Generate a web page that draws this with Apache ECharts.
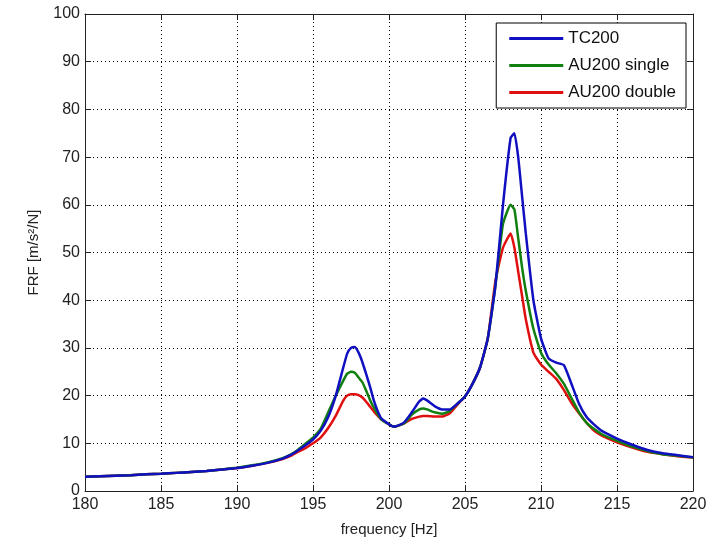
<!DOCTYPE html>
<html><head><meta charset="utf-8">
<script src="https://cdn.jsdelivr.net/npm/echarts@6/dist/echarts.min.js"></script>
<style>html,body{margin:0;padding:0;background:#fff}#c{width:712px;height:545px}</style>
</head><body><div id="c"></div>
<script>
const freq = [180,181,182,183,184,185,186,187,188,189,190,191,192,193,193.5,194,194.5,195,195.5,196,196.5,197,197.25,197.5,197.75,198,198.25,198.5,198.75,199,199.25,199.5,200,200.3,200.5,201,201.5,202,202.25,202.5,203,203.5,204,204.5,205,205.5,206,206.5,207,207.5,208,208.25,208.5,208.75,209,209.5,210,210.5,211,211.5,212,212.5,213,213.5,214,215,216,217,218,219,220];
const tc200 = [3.0,3.1,3.2,3.3,3.5,3.6,3.8,4.0,4.2,4.5,4.8,5.3,5.9,6.8,7.5,8.5,9.6,10.8,12.6,15.5,20.0,26.0,28.8,30.0,30.2,29.0,27.0,24.5,21.9,19.0,16.8,15.2,14.0,13.5,13.6,14.4,16.5,18.8,19.4,19.0,17.8,17.1,17.1,18.3,19.8,22.5,26.0,32.0,43.0,60.0,74.0,75.0,70.0,62.0,54.0,40.0,32.0,27.8,26.9,26.4,22.5,18.3,15.5,13.9,12.6,11.0,9.7,8.6,7.9,7.5,7.1];
const au200Single = [3.0,3.1,3.2,3.3,3.5,3.6,3.8,4.0,4.2,4.5,4.9,5.4,6.0,6.9,7.6,8.6,9.9,11.2,13.0,16.5,20.0,23.2,24.6,25.0,24.8,23.8,22.8,21.0,19.1,17.5,16.1,15.0,14.0,13.5,13.6,14.2,16.0,17.1,17.3,17.1,16.5,16.2,16.8,18.3,19.8,22.5,26.0,32.0,43.0,56.0,60.0,59.0,53.0,47.0,42.0,34.0,29.0,26.5,24.7,22.5,19.5,16.5,14.3,13.0,11.9,10.5,9.3,8.4,7.7,7.4,7.0];
const au200Double = [3.0,3.1,3.2,3.3,3.5,3.6,3.8,4.0,4.2,4.5,4.8,5.3,5.9,6.7,7.3,8.2,9.0,10.0,11.2,13.2,15.8,19.0,20.0,20.3,20.3,20.1,19.6,18.7,17.7,16.7,15.8,15.0,14.0,13.5,13.6,14.2,15.1,15.6,15.7,15.7,15.6,15.6,16.3,18.1,19.8,22.5,26.0,32.0,44.0,51.0,54.0,51.0,46.0,41.0,36.0,29.0,26.5,25.0,23.5,21.2,18.5,16.3,14.3,12.6,11.6,10.2,9.1,8.2,7.7,7.3,7.0];
const xTicks = [180,185,190,195,200,205,210,215,220];
const yTicks = [0,10,20,30,40,50,60,70,80,90,100];
const seriesNames = ['TC200','AU200 single','AU200 double'];
const colors = ['#1010c0','#108010','#e01010'];

const pairs = ys => freq.map((f,i)=>[f,ys[i]]);
const font = 'Liberation Sans, Arial, sans-serif';
const chart = echarts.init(document.getElementById('c'));
const gridLine = {show:true,lineStyle:{color:'#000',type:[1,3],width:1}};
chart.setOption({
  animation:false,
  grid:{left:85,top:14,right:19,bottom:54},
  legend:{
    data:seriesNames, orient:'vertical', right:26, top:23,
    icon:'rect', itemWidth:54, itemHeight:3, itemGap:10,
    backgroundColor:'#fff', borderColor:'#000', borderWidth:1, borderRadius:0,
    padding:[7,10,7,13],
    textStyle:{fontFamily:font,fontSize:17,color:'#111'}
  },
  xAxis:[{
    type:'value', min:180, max:220, interval:5,
    name:'frequency [Hz]', nameLocation:'middle', nameGap:31,
    nameTextStyle:{fontFamily:font,fontSize:15,color:'#222'},
    axisLine:{show:true,lineStyle:{color:'#222',width:1}},
    axisTick:{show:true,inside:true,length:6,lineStyle:{color:'#222'}},
    axisLabel:{fontFamily:font,fontSize:16,color:'#222',margin:6,
      formatter:v=>xTicks.includes(v)?String(v):''},
    splitLine:gridLine
  },{
    type:'value', min:180, max:220, interval:5, position:'top',
    axisLine:{show:true,onZero:false,lineStyle:{color:'#222',width:1}},
    axisTick:{show:true,inside:true,length:6,lineStyle:{color:'#222'}},
    axisLabel:{show:false}, splitLine:{show:false}
  }],
  yAxis:[{
    type:'value', min:0, max:100, interval:10,
    name:'FRF [m/s²/N]', nameLocation:'middle', nameGap:44,
    nameTextStyle:{fontFamily:font,fontSize:15,color:'#222'},
    axisLine:{show:true,lineStyle:{color:'#222',width:1}},
    axisTick:{show:true,inside:true,length:6,lineStyle:{color:'#222'}},
    axisLabel:{fontFamily:font,fontSize:16,color:'#222',margin:5,
      formatter:v=>yTicks.includes(v)?String(v):''},
    splitLine:gridLine
  },{
    type:'value', min:0, max:100, interval:10, position:'right',
    axisLine:{show:true,onZero:false,lineStyle:{color:'#222',width:1}},
    axisTick:{show:true,inside:true,length:6,lineStyle:{color:'#222'}},
    axisLabel:{show:false}, splitLine:{show:false}
  }],
  series:[tc200,au200Single,au200Double].map((d,i)=>({
    name:seriesNames[i], type:'line', data:pairs(d), showSymbol:false, symbol:'none',
    smooth:0.15, color:colors[i], lineStyle:{width:2.5,color:colors[i]}, z:3-i
  }))
});
</script></body></html>
